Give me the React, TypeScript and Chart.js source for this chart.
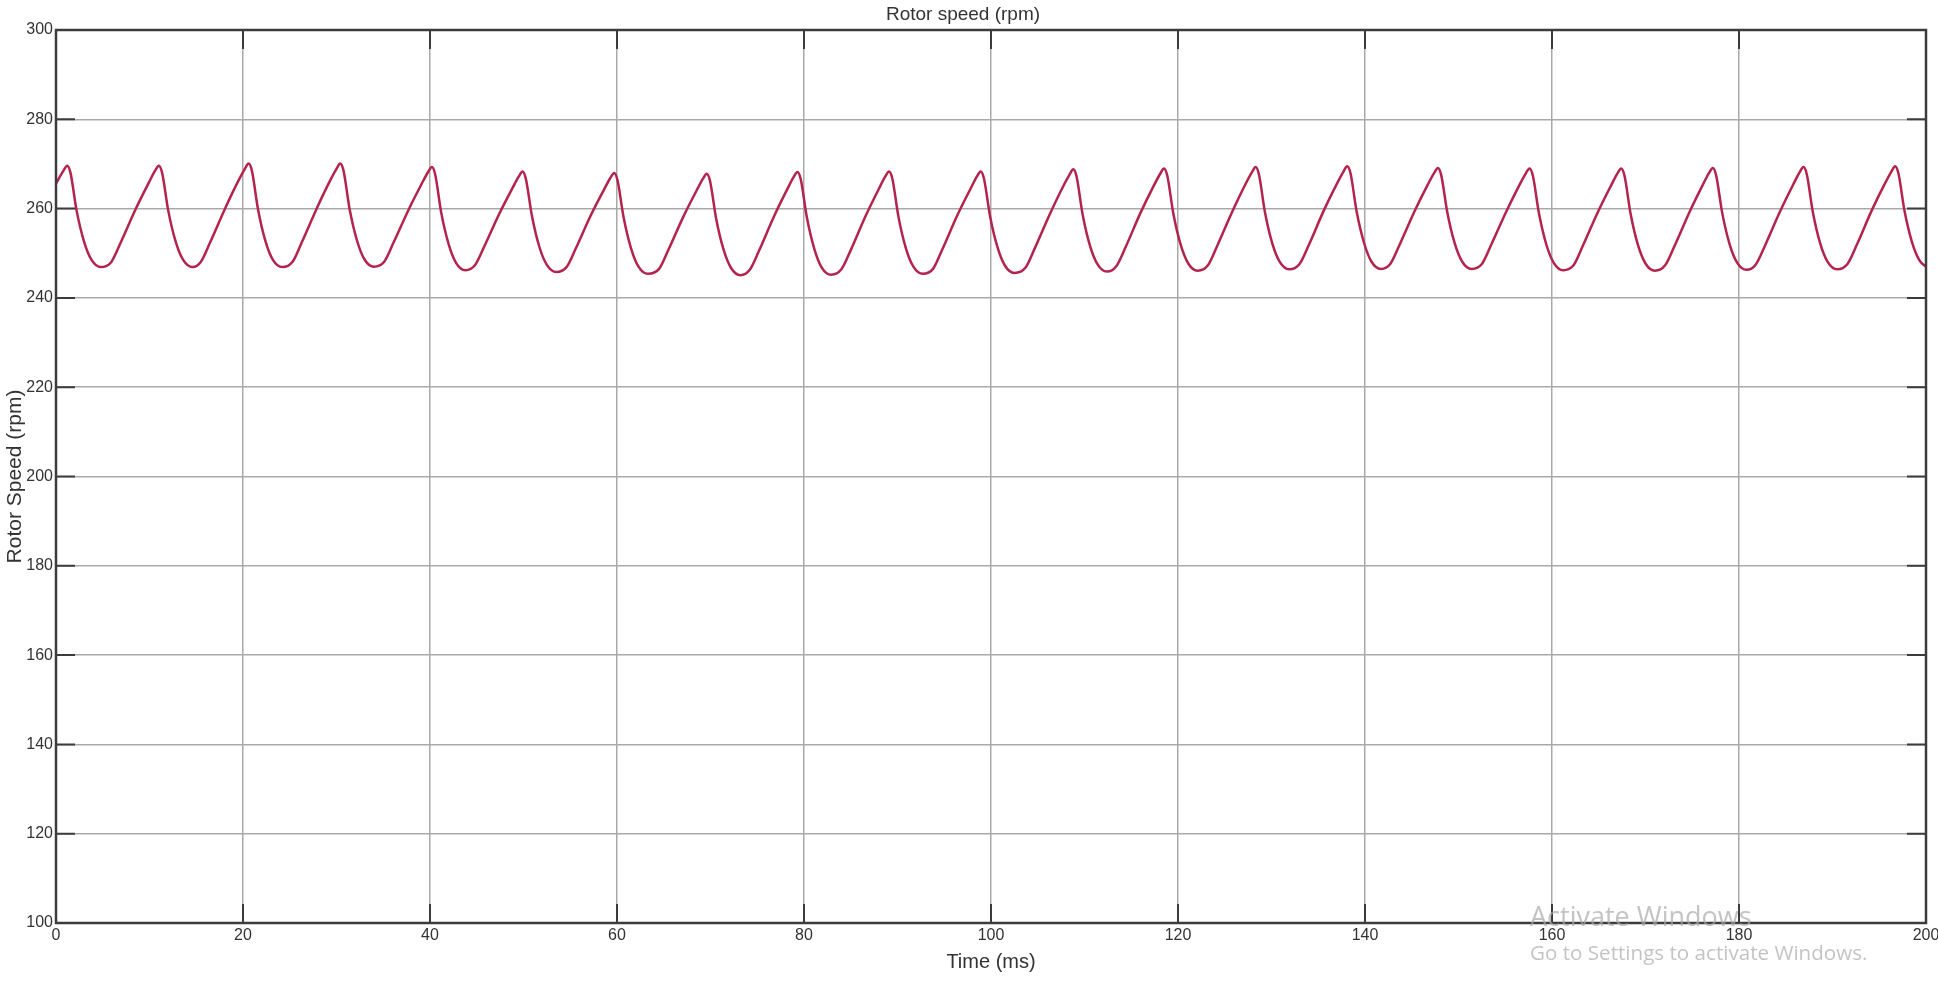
import React, { useEffect, useRef } from "react";
import { Chart, registerables } from "chart.js";

Chart.register(...registerables);

const chartTitle = "Rotor speed (rpm)";
const xAxisTitle = "Time (ms)";
const yAxisTitle = "Rotor Speed (rpm)";

const xTickValues = [0, 20, 40, 60, 80, 100, 120, 140, 160, 180, 200];
const yTickValues = [100, 120, 140, 160, 180, 200, 220, 240, 260, 280, 300];

// Time samples (ms)
const timeMs = [
  0, 0.8,
  1.2, 1.55, 2.2, 3.0, 3.8, 4.8, 5.9, 6.9, 8.5, 9.9, 10.6,
  11.0, 11.35, 12.0, 12.8, 13.6, 14.6, 15.5, 16.5, 18.1, 19.5, 20.2,
  20.6, 20.95, 21.6, 22.4, 23.2, 24.2, 25.3, 26.3, 27.9, 29.3, 30.0,
  30.4, 30.75, 31.4, 32.2, 33.0, 34.0, 35.1, 36.1, 37.7, 39.1, 39.8,
  40.2, 40.55, 41.2, 42.0, 42.8, 43.8, 44.8, 45.8, 47.4, 48.8, 49.5,
  49.9, 50.25, 50.9, 51.7, 52.5, 53.5, 54.6, 55.6, 57.2, 58.6, 59.3,
  59.7, 60.05, 60.7, 61.5, 62.3, 63.3, 64.5, 65.5, 67.1, 68.5, 69.2,
  69.6, 69.95, 70.6, 71.4, 72.2, 73.2, 74.2, 75.2, 76.8, 78.2, 78.9,
  79.3, 79.65, 80.3, 81.1, 81.9, 82.9, 84.0, 85.0, 86.6, 88.0, 88.7,
  89.1, 89.45, 90.1, 90.9, 91.7, 92.7, 93.8, 94.8, 96.4, 97.8, 98.5,
  98.9, 99.25, 99.9, 100.7, 101.5, 102.5, 103.7, 104.7, 106.3, 107.7, 108.4,
  108.8, 109.15, 109.8, 110.6, 111.4, 112.4, 113.4, 114.4, 116.0, 117.4, 118.1,
  118.5, 118.85, 119.5, 120.3, 121.1, 122.1, 123.2, 124.2, 125.8, 127.2, 127.9,
  128.3, 128.65, 129.3, 130.1, 130.9, 131.9, 133.0, 134.0, 135.6, 137.0, 137.7,
  138.1, 138.45, 139.1, 139.9, 140.7, 141.7, 142.7, 143.7, 145.3, 146.7, 147.4,
  147.8, 148.15, 148.8, 149.6, 150.4, 151.4, 152.5, 153.5, 155.1, 156.5, 157.2,
  157.6, 157.95, 158.6, 159.4, 160.2, 161.2, 162.3, 163.3, 164.9, 166.3, 167.0,
  167.4, 167.75, 168.4, 169.2, 170.0, 171.0, 172.1, 173.1, 174.7, 176.1, 176.8,
  177.2, 177.55, 178.2, 179.0, 179.8, 180.8, 181.8, 182.8, 184.4, 185.8, 186.5,
  186.9, 187.25, 187.9, 188.7, 189.5, 190.5, 191.6, 192.6, 194.2, 195.6, 196.3,
  196.7, 197.05, 197.7, 198.5, 199.3, 200,
];

// Rotor speed (rpm) at each time sample
const rotorSpeed = [
  265.6, 268.5,
  269.6, 268.0, 259.6, 252.6, 248.5, 246.9, 248.0, 252.3, 259.8, 265.7, 268.5,
  269.6, 268.0, 259.6, 252.6, 248.5, 246.9, 248.1, 252.5, 260.1, 266.2, 268.9,
  270.1, 268.5, 259.9, 252.7, 248.5, 246.9, 248.1, 252.5, 260.1, 266.2, 268.9,
  270.1, 268.5, 259.9, 252.8, 248.6, 247.0, 248.1, 252.4, 259.7, 265.5, 268.2,
  269.3, 267.7, 259.1, 252.0, 247.8, 246.2, 247.3, 251.5, 258.8, 264.5, 267.2,
  268.3, 266.7, 258.4, 251.4, 247.4, 245.8, 246.9, 251.1, 258.5, 264.2, 266.9,
  268.0, 266.4, 258.1, 251.1, 247.0, 245.4, 246.5, 250.8, 258.2, 264.0, 266.7,
  267.8, 266.2, 257.8, 250.8, 246.7, 245.1, 246.3, 250.6, 258.3, 264.3, 267.1,
  268.2, 266.6, 258.1, 251.0, 246.8, 245.2, 246.4, 250.7, 258.4, 264.4, 267.2,
  268.3, 266.7, 258.2, 251.1, 247.0, 245.4, 246.5, 250.9, 258.5, 264.4, 267.2,
  268.3, 266.7, 258.3, 251.3, 247.2, 245.6, 246.8, 251.2, 258.8, 264.9, 267.6,
  268.8, 267.2, 258.7, 251.6, 247.5, 245.9, 247.1, 251.4, 259.1, 265.1, 267.8,
  269.0, 267.4, 258.9, 251.8, 247.7, 246.1, 247.3, 251.7, 259.3, 265.4, 268.1,
  269.3, 267.7, 259.2, 252.1, 248.0, 246.4, 247.6, 251.9, 259.6, 265.6, 268.3,
  269.5, 267.9, 259.4, 252.3, 248.1, 246.5, 247.6, 251.9, 259.4, 265.3, 268.0,
  269.1, 267.5, 259.2, 252.2, 248.1, 246.5, 247.6, 251.9, 259.3, 265.2, 267.9,
  269.0, 267.4, 259.0, 251.9, 247.8, 246.2, 247.3, 251.7, 259.2, 265.1, 267.9,
  269.0, 267.4, 258.9, 251.8, 247.7, 246.1, 247.3, 251.6, 259.2, 265.2, 268.0,
  269.1, 267.5, 259.1, 252.0, 247.9, 246.3, 247.5, 251.8, 259.4, 265.4, 268.2,
  269.3, 267.7, 259.2, 252.1, 248.0, 246.4, 247.6, 251.9, 259.6, 265.6, 268.3,
  269.5, 267.9, 259.5, 252.5, 248.4, 247.0,
];

const W = 1938;
const H = 983;
const TEXT = "#333333";
const GRID = "#a9a9a9";
const FRAME = "#3c3c3c";
const LINE = "#b3234c";
const FONT = "'Liberation Sans', Arial, sans-serif";

const frameAndTicks = {
  id: "frameAndTicks",
  afterDraw(chart: any) {
    const { ctx, chartArea, scales } = chart;
    const { left, right, top, bottom } = chartArea;
    const len = 19;
    ctx.save();
    ctx.strokeStyle = FRAME;
    ctx.lineWidth = 2;
    ctx.beginPath();
    xTickValues.forEach((v) => {
      const px = scales.x.getPixelForValue(v);
      ctx.moveTo(px, bottom);
      ctx.lineTo(px, bottom - len);
      ctx.moveTo(px, top);
      ctx.lineTo(px, top + len);
    });
    yTickValues.forEach((v) => {
      const py = scales.y.getPixelForValue(v);
      ctx.moveTo(left, py);
      ctx.lineTo(left + len, py);
      ctx.moveTo(right, py);
      ctx.lineTo(right - len, py);
    });
    ctx.stroke();
    ctx.lineWidth = 2.5;
    ctx.strokeRect(left, top, right - left, bottom - top);
    ctx.restore();
  },
};

export default function App() {
  const canvasRef = useRef<HTMLCanvasElement | null>(null);

  useEffect(() => {
    if (!canvasRef.current) return;
    const points = timeMs.map((t, i) => ({ x: t, y: rotorSpeed[i] }));
    const chart = new Chart(canvasRef.current, {
      type: "line",
      data: {
        datasets: [
          {
            data: points,
            borderColor: LINE,
            borderWidth: 2.5,
            pointRadius: 0,
            fill: false,
            cubicInterpolationMode: "monotone",
          },
        ],
      },
      options: {
        responsive: false,
        animation: false,
        events: [],
        layout: { padding: { left: 0, right: 12, top: 0, bottom: 0 } },
        plugins: {
          legend: { display: false },
          tooltip: { enabled: false },
          title: {
            display: true,
            text: chartTitle,
            color: TEXT,
            font: { family: FONT, size: 19, weight: "normal" },
            padding: { top: 3, bottom: 4.2 },
          },
        },
        scales: {
          x: {
            type: "linear",
            min: 0,
            max: 200,
            afterBuildTicks: (s: any) => {
              s.ticks = xTickValues.map((v) => ({ value: v }));
            },
            afterFit: (s: any) => {
              s.height = 60;
              s.paddingLeft = 0;
              s.paddingRight = 0;
            },
            ticks: {
              color: TEXT,
              font: { family: FONT, size: 16 },
              padding: 3,
              maxRotation: 0,
              autoSkip: false,
            },
            grid: { color: GRID, lineWidth: 1.5, drawTicks: false },
            border: { display: false },
            title: {
              display: true,
              text: xAxisTitle,
              color: TEXT,
              font: { family: FONT, size: 20 },
              padding: { top: 0, bottom: 9 },
            },
          },
          y: {
            type: "linear",
            min: 100,
            max: 300,
            afterBuildTicks: (s: any) => {
              s.ticks = yTickValues.map((v) => ({ value: v }));
            },
            afterFit: (s: any) => {
              s.width = 56;
              s.paddingTop = 0;
              s.paddingBottom = 0;
            },
            ticks: {
              color: TEXT,
              font: { family: FONT, size: 16 },
              padding: 3,
              autoSkip: false,
            },
            grid: { color: GRID, lineWidth: 1.5, drawTicks: false },
            border: { display: false },
            title: {
              display: true,
              text: yAxisTitle,
              color: TEXT,
              font: { family: FONT, size: 21 },
              padding: { top: 2.4, bottom: 0 },
            },
          },
        },
      },
      plugins: [frameAndTicks],
    });
    return () => chart.destroy();
  }, []);

  return (
    <div style={{ position: "absolute", left: 0, top: 0, width: W, height: H, overflow: "hidden", background: "#ffffff" }}>
      <canvas ref={canvasRef} width={W} height={H} style={{ display: "block", width: W, height: H }} />
      <div
        style={{
          position: "absolute",
          left: 1530,
          top: 902,
          fontFamily: "'Open Sans', 'Noto Sans', sans-serif",
          fontSize: 27,
          lineHeight: 1,
          color: "rgba(170,170,170,0.7)",
          whiteSpace: "nowrap",
          pointerEvents: "none",
        }}
      >
        Activate Windows
      </div>
      <div
        style={{
          position: "absolute",
          left: 1530,
          top: 942,
          fontFamily: "'Open Sans', 'Noto Sans', sans-serif",
          fontSize: 20.6,
          lineHeight: 1,
          color: "rgba(170,170,170,0.7)",
          whiteSpace: "nowrap",
          pointerEvents: "none",
        }}
      >
        Go to Settings to activate Windows.
      </div>
    </div>
  );
}
